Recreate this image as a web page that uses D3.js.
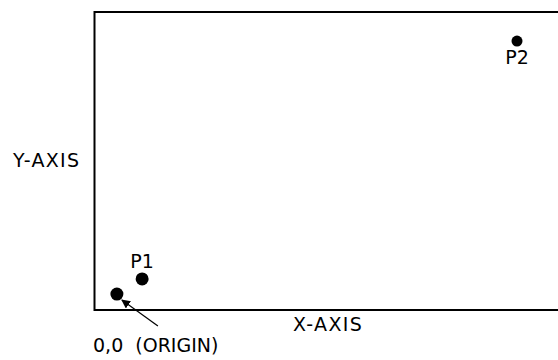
<!DOCTYPE html>
<html>
<head>
<meta charset="utf-8">
<script src="https://cdn.jsdelivr.net/npm/d3@7"></script>
<style>
  body { margin: 0; background: #fff; }
  svg text { font-family: "DejaVu Sans", sans-serif; fill: #000; white-space: pre; }
</style>
</head>
<body>
<div id="chart"></div>
<script>
// points in data units (origin, P1, P2)
var pointNames = ["ORIGIN", "P1", "P2"];
var pointX = [0, 6.3, 100];
var pointY = [0, 6, 100];
var pointLabels = ["0,0  (ORIGIN)", "P1", "P2"];
var axisLabels = ["X-AXIS", "Y-AXIS"];

var width = 558,
    height = 360,
    frame = {left: 94.5, top: 12, bottom: 310};

var x = d3.scaleLinear().domain([-5.6, 100]).range([frame.left, 517]);
var y = d3.scaleLinear().domain([-6.3, 111.5]).range([frame.bottom, frame.top]);

var svg = d3.select("#chart").append("svg")
    .attr("width", width)
    .attr("height", height);

svg.append("defs").append("marker")
    .attr("id", "head")
    .attr("viewBox", "0 0 10 10")
    .attr("refX", 9).attr("refY", 5)
    .attr("markerWidth", 9).attr("markerHeight", 9)
    .attr("markerUnits", "userSpaceOnUse")
    .attr("orient", "auto")
  .append("path")
    .attr("d", "M0,0L10,5L0,10z")
    .attr("fill", "#000");

// frame: left, top and bottom edges (right edge runs off the page)
svg.append("path")
    .attr("d", "M" + width + "," + frame.top + "H" + frame.left +
               "V" + frame.bottom + "H" + width)
    .attr("fill", "none")
    .attr("stroke", "#000")
    .attr("stroke-width", 2);

var data = pointNames.map(function(d, i) {
  return {name: d, x: pointX[i], y: pointY[i], label: pointLabels[i]};
});

svg.selectAll("circle.pt").data(data).enter().append("circle")
    .attr("class", "pt")
    .attr("cx", function(d) { return x(d.x); })
    .attr("cy", function(d) { return y(d.y); })
    .attr("r", function(d) { return d.name == "P2" ? 5.5 : 6.5; })
    .attr("fill", "#000");

var labelStyle = function(spacing) {
  return function(sel) {
    sel.attr("font-size", "19px").attr("letter-spacing", spacing + "px");
  };
};

// P1 label sits above its dot, P2 below
svg.append("text")
    .call(labelStyle(0))
    .attr("x", x(data[1].x))
    .attr("y", y(data[1].y) - 11)
    .attr("text-anchor", "middle")
    .text(data[1].label);

svg.append("text")
    .call(labelStyle(0))
    .attr("x", x(data[2].x))
    .attr("y", y(data[2].y) + 23)
    .attr("text-anchor", "middle")
    .text(data[2].label);

// origin callout with arrow
var ox = x(data[0].x), oy = y(data[0].y);
svg.append("line")
    .attr("x1", ox + 41).attr("y1", oy + 32)
    .attr("x2", ox + 5).attr("y2", oy + 6)
    .attr("stroke", "#000")
    .attr("stroke-width", 1.2)
    .attr("marker-end", "url(#head)");

svg.append("text")
    .call(labelStyle(0))
    .attr("x", 93)
    .attr("y", 352)
    .text(data[0].label);

// axis titles
svg.append("text")
    .call(labelStyle(1.3))
    .attr("x", 293)
    .attr("y", 331)
    .text(axisLabels[0]);

svg.append("text")
    .call(labelStyle(1.3))
    .attr("x", 13)
    .attr("y", 167)
    .text(axisLabels[1]);
</script>
</body>
</html>
